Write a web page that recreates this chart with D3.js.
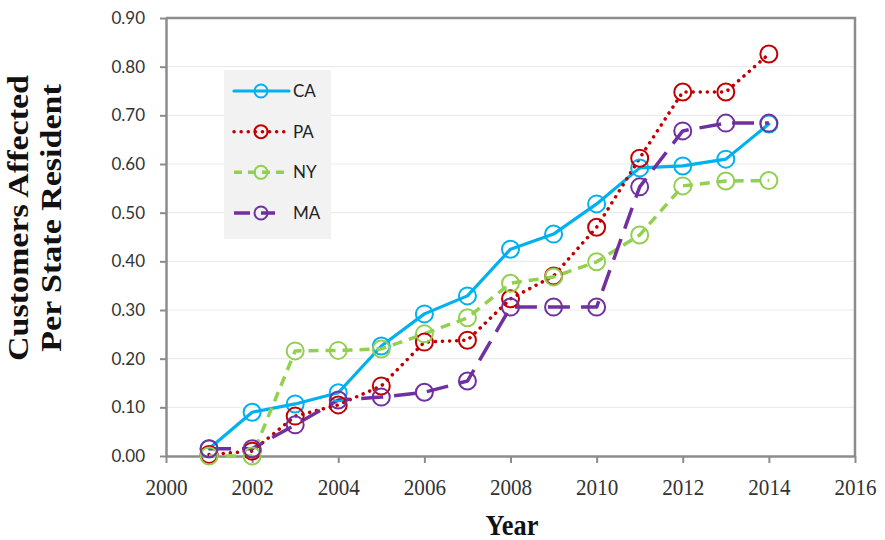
<!DOCTYPE html>
<html>
<head>
<meta charset="utf-8">
<script src="https://cdn.jsdelivr.net/npm/d3@7"></script>
<style>
  body { margin: 0; background: #fff; }
</style>
</head>
<body>
<div id="chart"></div>
<script>
const years = [2001, 2002, 2003, 2004, 2005, 2006, 2007, 2008, 2009, 2010, 2011, 2012, 2013, 2014];
const caValues = [0.015, 0.09, 0.107, 0.13, 0.226, 0.292, 0.329, 0.425, 0.456, 0.518, 0.592, 0.596, 0.61, 0.682];
const paValues = [0.003, 0.01, 0.082, 0.105, 0.144, 0.234, 0.238, 0.323, 0.37, 0.47, 0.612, 0.748, 0.748, 0.826];
const nyValues = [0.0, 0.0, 0.216, 0.217, 0.22, 0.251, 0.284, 0.355, 0.368, 0.399, 0.454, 0.555, 0.565, 0.566];
const maValues = [0.015, 0.015, 0.064, 0.115, 0.121, 0.131, 0.154, 0.306, 0.306, 0.306, 0.553, 0.668, 0.684, 0.684];
const seriesNames = ["CA", "PA", "NY", "MA"];
const xTicks = [2000, 2002, 2004, 2006, 2008, 2010, 2012, 2014, 2016];
const yTicks = [0, 0.1, 0.2, 0.3, 0.4, 0.5, 0.6, 0.7, 0.8, 0.9];

const series = [
    { name: "CA", values: caValues, color: "#00b0f0", dash: null, legendDash: null, cap: "round" },
    { name: "PA", values: paValues, color: "#c00000", dash: "0.1,7", legendDash: "0.1,7", cap: "round" },
    { name: "NY", values: nyValues, color: "#92d050", dash: "10,7", legendDash: "8,6", cap: "butt" },
    { name: "MA", values: maValues, color: "#7030a0", dash: "22,11", legendDash: "16,11", cap: "butt" }
];

const W = 885, H = 540;
const margin = { top: 18, right: 30, bottom: 84, left: 166 };
// the original picture's text is slightly narrow, squeeze it horizontally
const squeeze = 0.88;

const svg = d3.select("#chart").append("svg")
    .attr("width", W)
    .attr("height", H);

const x = d3.scaleLinear().domain([2000, 2016]).range([margin.left, W - margin.right]);
const y = d3.scaleLinear().domain([0, 0.9]).range([H - margin.bottom, margin.top]);

// horizontal gridlines
svg.append("g")
    .selectAll("line")
    .data(yTicks.slice(1))
    .join("line")
    .attr("x1", x(2000))
    .attr("x2", x(2016))
    .attr("y1", d => y(d))
    .attr("y2", d => y(d))
    .attr("stroke", "#ececec")
    .attr("stroke-width", 1.2);

// plot border (top and right)
svg.append("path")
    .attr("d", `M${x(2000)},${y(0.9)}H${x(2016)}V${y(0)}`)
    .attr("fill", "none")
    .attr("stroke", "#8c8c8c")
    .attr("stroke-width", 2.5);

// axes
const xAxis = svg.append("g")
    .attr("transform", `translate(0,${y(0)})`)
    .call(d3.axisBottom(x).tickValues(xTicks).tickFormat(d3.format("d")).tickSize(7).tickSizeOuter(0));
xAxis.select(".domain").attr("stroke", "#8c8c8c").attr("stroke-width", 2.5);
xAxis.selectAll(".tick line").attr("stroke", "#8c8c8c").attr("stroke-width", 2);
xAxis.selectAll("text")
    .attr("y", 39)
    .attr("dy", null)
    .attr("transform", `scale(${squeeze},1)`)
    .style("font-family", "'Liberation Serif', serif")
    .style("font-size", "24px")
    .style("fill", "#333");

const yAxis = svg.append("g")
    .attr("transform", `translate(${x(2000)},0)`)
    .call(d3.axisLeft(y).tickValues(yTicks).tickFormat(d3.format(".2f")).tickSize(6).tickSizeOuter(0));
yAxis.select(".domain").attr("stroke", "#8c8c8c").attr("stroke-width", 2.5);
yAxis.selectAll(".tick line").attr("stroke", "#8c8c8c").attr("stroke-width", 2);
yAxis.selectAll("text")
    .attr("x", -21)
    .style("font-family", "Lato, 'Open Sans', sans-serif")
    .style("font-size", "17px")
    .style("fill", "#333");

// lines and markers
const line = d3.line()
    .x((d, i) => x(years[i]))
    .y(d => y(d));

series.forEach(s => {
    svg.append("path")
        .datum(s.values)
        .attr("d", line)
        .attr("fill", "none")
        .attr("stroke", s.color)
        .attr("stroke-width", s.name === "CA" ? 3.2 : 3.5)
        .attr("stroke-dasharray", s.dash)
        .attr("stroke-linecap", s.cap)
        .attr("stroke-linejoin", "round");
});

series.forEach(s => {
    svg.append("g")
        .selectAll("circle")
        .data(s.values)
        .join("circle")
        .attr("cx", (d, i) => x(years[i]))
        .attr("cy", d => y(d))
        .attr("r", 8.5)
        .attr("fill", "none")
        .attr("stroke", s.color)
        .attr("stroke-width", 2);
});

// legend
const legend = svg.append("g");
legend.append("rect")
    .attr("x", 224)
    .attr("y", 70)
    .attr("width", 107)
    .attr("height", 169)
    .attr("fill", "#f2f2f2");

const legendY = d3.scalePoint().domain(seriesNames).range([91, 213]);
series.forEach(s => {
    const ly = legendY(s.name);
    const x2 = s.name === "MA" ? 275 : 289;
    legend.append("line")
        .attr("x1", 234)
        .attr("x2", x2)
        .attr("y1", ly)
        .attr("y2", ly)
        .attr("stroke", s.color)
        .attr("stroke-width", s.name === "CA" ? 3.2 : 3.5)
        .attr("stroke-dasharray", s.legendDash)
        .attr("stroke-linecap", s.cap);
    legend.append("circle")
        .attr("cx", 261)
        .attr("cy", ly)
        .attr("r", 6.5)
        .attr("fill", "none")
        .attr("stroke", s.color)
        .attr("stroke-width", 2);
    legend.append("text")
        .attr("x", 293)
        .attr("y", ly)
        .attr("dy", "0.36em")
        .style("font-family", "Lato, 'Open Sans', sans-serif")
        .style("font-size", "17px")
        .style("fill", "#222")
        .text(s.name);
});

// axis titles
svg.append("text")
    .attr("transform", `translate(512,535) scale(${squeeze},1)`)
    .attr("text-anchor", "middle")
    .style("font-family", "'Liberation Serif', serif")
    .style("font-weight", "bold")
    .style("font-size", "30px")
    .style("fill", "#111")
    .text("Year");

const yTitle = svg.append("text")
    .attr("transform", `translate(28,218) scale(${squeeze},1) rotate(-90)`)
    .attr("text-anchor", "middle")
    .style("font-family", "'Liberation Serif', serif")
    .style("font-weight", "bold")
    .style("font-size", "34px")
    .style("fill", "#111");
yTitle.append("tspan").attr("x", 0).attr("y", 0).text("Customers Affected");
yTitle.append("tspan").attr("x", 0).attr("y", 37.5).text("Per State Resident");
</script>
</body>
</html>
